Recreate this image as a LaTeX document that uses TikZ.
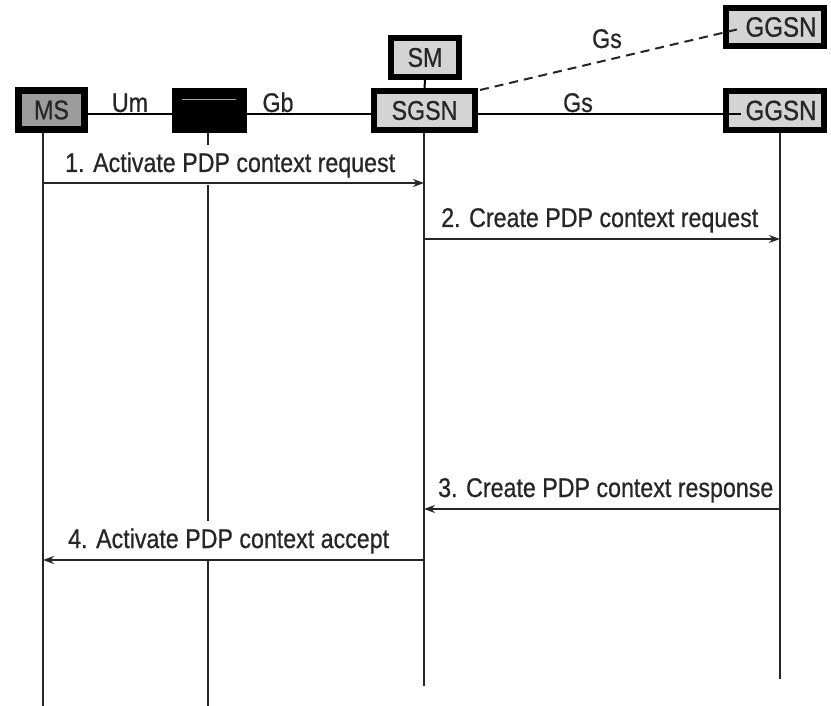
\documentclass[tikz,border=0pt]{standalone}
\usepackage{fontspec}
\setmainfont{Liberation Sans}[FakeStretch=0.86,FakeBold=0.6]
\usetikzlibrary{arrows.meta,calc}
\definecolor{ink}{HTML}{262626}
\definecolor{msfill}{HTML}{9C9C9C}
\definecolor{boxfill}{HTML}{D4D4D4}
\begin{document}
\begin{tikzpicture}[x=1pt,y=-1pt,
  font=\fontsize{27}{30}\selectfont,
  entity/.style={draw=black,line width=6pt,fill=boxfill,inner sep=0pt,
    minimum width=98pt,minimum height=39pt,text=ink},
  link/.style={line width=2.4pt,draw=black},
  life/.style={line width=2.4pt,draw=ink},
  msg/.style={line width=1.4pt,draw=ink,-{Stealth[length=11pt,width=8pt]}},
  mlbl/.style={fill=white,inner xsep=2pt,inner ysep=7pt,text=ink,anchor=base west},
  ilbl/.style={inner sep=0pt,text=ink,anchor=base}]
\useasboundingbox (0,0) rectangle (831,706);
\fill[white] (0,0) rectangle (831,706);

% entities
\node[entity,fill=msfill,line width=7pt,minimum width=66pt] (ms) at (51.5,110) {MS};
\node[entity,fill=black,minimum width=69pt] (bss) at (209.5,110.5) {};
\draw[gray!70,line width=1pt] (182,100) -- (236,100);
\node[entity,minimum width=101pt] (sgsn) at (424.5,110.5) {SGSN};
\node[entity,minimum width=68pt] (sm) at (425,57.5) {SM};
\node[entity] (ggsn) at (775,110.5) {\hspace*{12pt}\fontsize{28}{30}\selectfont GGSN};
\node[entity,minimum height=38pt] (ggsnb) at (775,27) {\hspace*{12pt}\fontsize{28}{30}\selectfont GGSN};

% interfaces
\coordinate (gin) at (741,114);
\coordinate (gbin) at (739,29);
\draw[link] (ms.east |- 0,114) -- (bss.west |- 0,114);
\draw[link] (bss.east |- 0,114) -- (sgsn.west |- 0,114);
\draw[link] (sgsn.east |- 0,114) -- (gin);
\draw[link,line width=2pt] (sm.south) -- (sgsn.north);
\draw[ink,line width=2pt,dash pattern=on 9pt off 6pt] (sgsn.north east) ++(2,2) -- (gbin);
\node[ilbl] (um) at (130,112) {Um};
\node[ilbl] (gb) at (278,112) {Gb};
\node[ilbl] (gs1) at (578,112) {Gs};
\node[ilbl] (gs2) at (607,48) {Gs};

% lifelines
\coordinate (msL) at (43,706);
\coordinate (bssL) at (208,706);
\coordinate (sgL) at (424,686);
\coordinate (ggL) at (780,679);
\draw[life] (ms.south -| msL) -- (msL);
\draw[life] (bss.south -| bssL) -- (bssL);
\draw[life] (sgsn.south -| sgL) -- (sgL);
\draw[life] (ggsn.south -| ggL) -- (ggL);

% message labels (white background hides lifelines behind text)
\node[mlbl] (m1) at (63,172) {1. Activate PDP context request};
\node[mlbl] (m2) at (439,227) {2. Create PDP context request};
\node[mlbl] (m3) at (436,497) {3. Create PDP context response};
\node[mlbl] (m4) at (66,548) {4. Activate PDP context accept};

% messages
\draw[msg] (msL |- 0,183) -- (sgL |- 0,183);
\draw[msg] (sgL |- 0,239) -- (ggL |- 0,239);
\draw[msg] (ggL |- 0,509) -- (sgL |- 0,509);
\draw[msg] (sgL |- 0,560) -- (msL |- 0,560);
\end{tikzpicture}
\end{document}
